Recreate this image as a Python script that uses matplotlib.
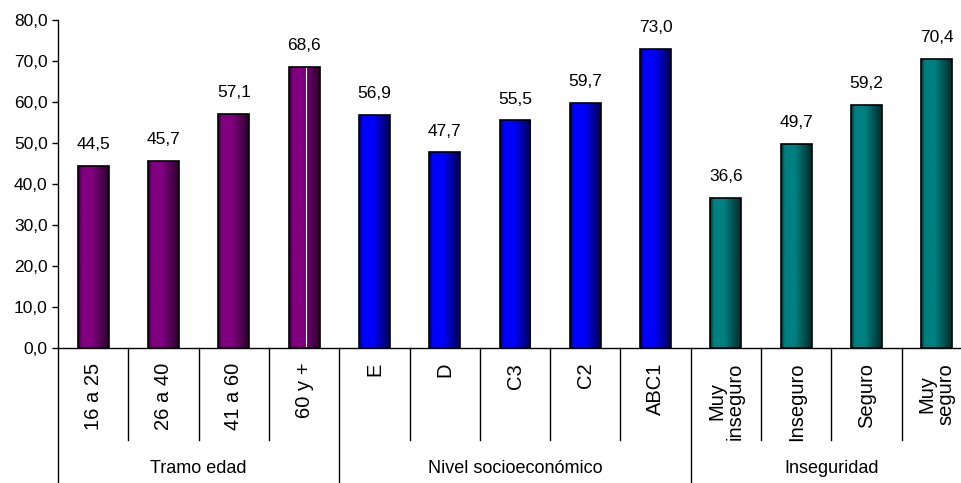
import matplotlib
matplotlib.use('Agg')
import matplotlib.pyplot as plt
import numpy as np
from matplotlib.colors import LinearSegmentedColormap
from matplotlib.ticker import MultipleLocator, FuncFormatter

plt.rcParams['font.family'] = ['Liberation Sans', 'DejaVu Sans']

# data
categories = ['16 a 25', '26 a 40', '41 a 60', '60 y +',
              'E', 'D', 'C3', 'C2', 'ABC1',
              'Muy\ninseguro', 'Inseguro', 'Seguro', 'Muy\nseguro']
values = [44.5, 45.7, 57.1, 68.6,
          56.9, 47.7, 55.5, 59.7, 73.0,
          36.6, 49.7, 59.2, 70.4]
groups = ['Tramo edad', 'Nivel socioeconómico', 'Inseguridad']
group_sizes = [4, 5, 4]

# gradient colours per group (dark edge, bright centre)
group_colors = [('#2a002a', '#800080'), ('#000050', '#0000ff'), ('#002a2a', '#008080')]

fig = plt.figure(figsize=(9.62, 4.83), dpi=100)
ax = fig.add_axes([58/962, 135/483, 914/962, 328/483])

x = np.arange(len(values))
w = 0.44
grp_idx = np.repeat(np.arange(len(groups)), group_sizes)

bars = ax.bar(x, values, width=w, color='none', edgecolor='black', linewidth=1.2, zorder=3)
grad = np.linspace(0, 1, 200)[None, :]
for b, g in zip(bars, grp_idx):
    dark, bright = group_colors[g]
    cmap = LinearSegmentedColormap.from_list('g', [(0, dark), (0.12, bright), (0.45, bright), (1, dark)])
    bx, by = b.get_x(), b.get_y()
    im = ax.imshow(grad, cmap=cmap, extent=(bx, bx + b.get_width(), by, by + b.get_height()),
                   aspect='auto', zorder=2)
    im.set_clip_path(b)

# white streak seen on the "60 y +" bar
ax.plot([3.03, 3.03], [0, values[3]], color='white', lw=0.8, zorder=2.5)

for xi, v in zip(x, values):
    ax.annotate(f'{v:.1f}'.replace('.', ','), (xi, v), xytext=(0, 10), textcoords='offset points',
                ha='center', va='bottom', fontsize=12.5)

ax.set_xlim(-0.5, len(values) - 0.5)
ax.set_ylim(0, 80)
ax.yaxis.set_major_locator(MultipleLocator(10))
ax.yaxis.set_major_formatter(FuncFormatter(lambda v, p: f'{v:.1f}'.replace('.', ',')))
ax.tick_params(axis='y', labelsize=12.5, length=4, direction='out', width=1)
ax.set_xticks([])
for s in ['top', 'right']:
    ax.spines[s].set_visible(False)
ax.spines['left'].set_linewidth(1)
ax.spines['bottom'].set_linewidth(1)

trans = ax.get_xaxis_transform()
# category labels
for xi, lab in zip(x, categories):
    ax.text(xi, -0.045, lab, rotation=90, ha='center', va='top', multialignment='center',
            fontsize=14.5, linespacing=1.0, transform=trans)

# separators
bounds = np.cumsum(group_sizes) - 0.5
group_edges = [-0.5] + list(bounds)
for xb in np.arange(len(values) + 1) - 0.5:
    if xb in group_edges:
        ax.plot([xb, xb], [0, -0.42], color='black', lw=1, transform=trans, clip_on=False)
    else:
        ax.plot([xb, xb], [0, -0.2805], color='black', lw=1, transform=trans, clip_on=False)

# group labels
starts = np.concatenate([[0], np.cumsum(group_sizes)[:-1]])
for gname, st, n in zip(groups, starts, group_sizes):
    ax.text(st + (n - 1) / 2, -0.366, gname, ha='center', va='center', fontsize=13, transform=trans)

fig.savefig('out.png', dpi=100)
